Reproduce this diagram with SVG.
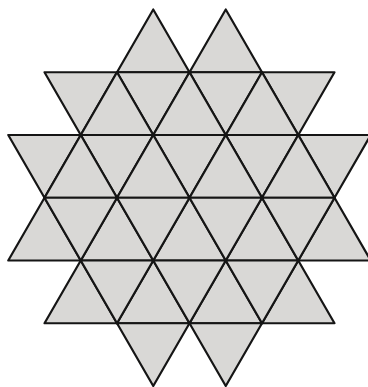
<svg xmlns="http://www.w3.org/2000/svg" width="368" height="387" viewBox="0 0 368 387">
<style>
.t{fill:#d9d8d6;stroke:#151515;stroke-width:2.2;stroke-linejoin:round}
</style>
<rect width="368" height="387" fill="#ffffff"/>
<g id="row0">
<polygon class="t" points="153.25,9.5 117,72.25 189.5,72.25"/>
<polygon class="t" points="225.75,9.5 189.5,72.25 262,72.25"/>
</g>
<g id="row1">
<polygon class="t" points="44.5,72.25 117,72.25 80.75,135"/>
<polygon class="t" points="117,72.25 189.5,72.25 153.25,135"/>
<polygon class="t" points="189.5,72.25 262,72.25 225.75,135"/>
<polygon class="t" points="262,72.25 334.5,72.25 298.25,135"/>
<polygon class="t" points="117,72.25 80.75,135 153.25,135"/>
<polygon class="t" points="189.5,72.25 153.25,135 225.75,135"/>
<polygon class="t" points="262,72.25 225.75,135 298.25,135"/>
</g>
<g id="row2">
<polygon class="t" points="8.25,135 80.75,135 44.5,197.75"/>
<polygon class="t" points="80.75,135 153.25,135 117,197.75"/>
<polygon class="t" points="153.25,135 225.75,135 189.5,197.75"/>
<polygon class="t" points="225.75,135 298.25,135 262,197.75"/>
<polygon class="t" points="298.25,135 370.75,135 334.5,197.75"/>
<polygon class="t" points="80.75,135 44.5,197.75 117,197.75"/>
<polygon class="t" points="153.25,135 117,197.75 189.5,197.75"/>
<polygon class="t" points="225.75,135 189.5,197.75 262,197.75"/>
<polygon class="t" points="298.25,135 262,197.75 334.5,197.75"/>
</g>
<g id="row3">
<polygon class="t" points="44.5,197.75 8.25,260.5 80.75,260.5"/>
<polygon class="t" points="117,197.75 80.75,260.5 153.25,260.5"/>
<polygon class="t" points="189.5,197.75 153.25,260.5 225.75,260.5"/>
<polygon class="t" points="262,197.75 225.75,260.5 298.25,260.5"/>
<polygon class="t" points="334.5,197.75 298.25,260.5 370.75,260.5"/>
<polygon class="t" points="44.5,197.75 117,197.75 80.75,260.5"/>
<polygon class="t" points="117,197.75 189.5,197.75 153.25,260.5"/>
<polygon class="t" points="189.5,197.75 262,197.75 225.75,260.5"/>
<polygon class="t" points="262,197.75 334.5,197.75 298.25,260.5"/>
</g>
<g id="row4">
<polygon class="t" points="80.75,260.5 44.5,323.25 117,323.25"/>
<polygon class="t" points="153.25,260.5 117,323.25 189.5,323.25"/>
<polygon class="t" points="225.75,260.5 189.5,323.25 262,323.25"/>
<polygon class="t" points="298.25,260.5 262,323.25 334.5,323.25"/>
<polygon class="t" points="80.75,260.5 153.25,260.5 117,323.25"/>
<polygon class="t" points="153.25,260.5 225.75,260.5 189.5,323.25"/>
<polygon class="t" points="225.75,260.5 298.25,260.5 262,323.25"/>
</g>
<g id="row5">
<polygon class="t" points="117,323.25 189.5,323.25 153.25,386"/>
<polygon class="t" points="189.5,323.25 262,323.25 225.75,386"/>
</g>
</svg>
